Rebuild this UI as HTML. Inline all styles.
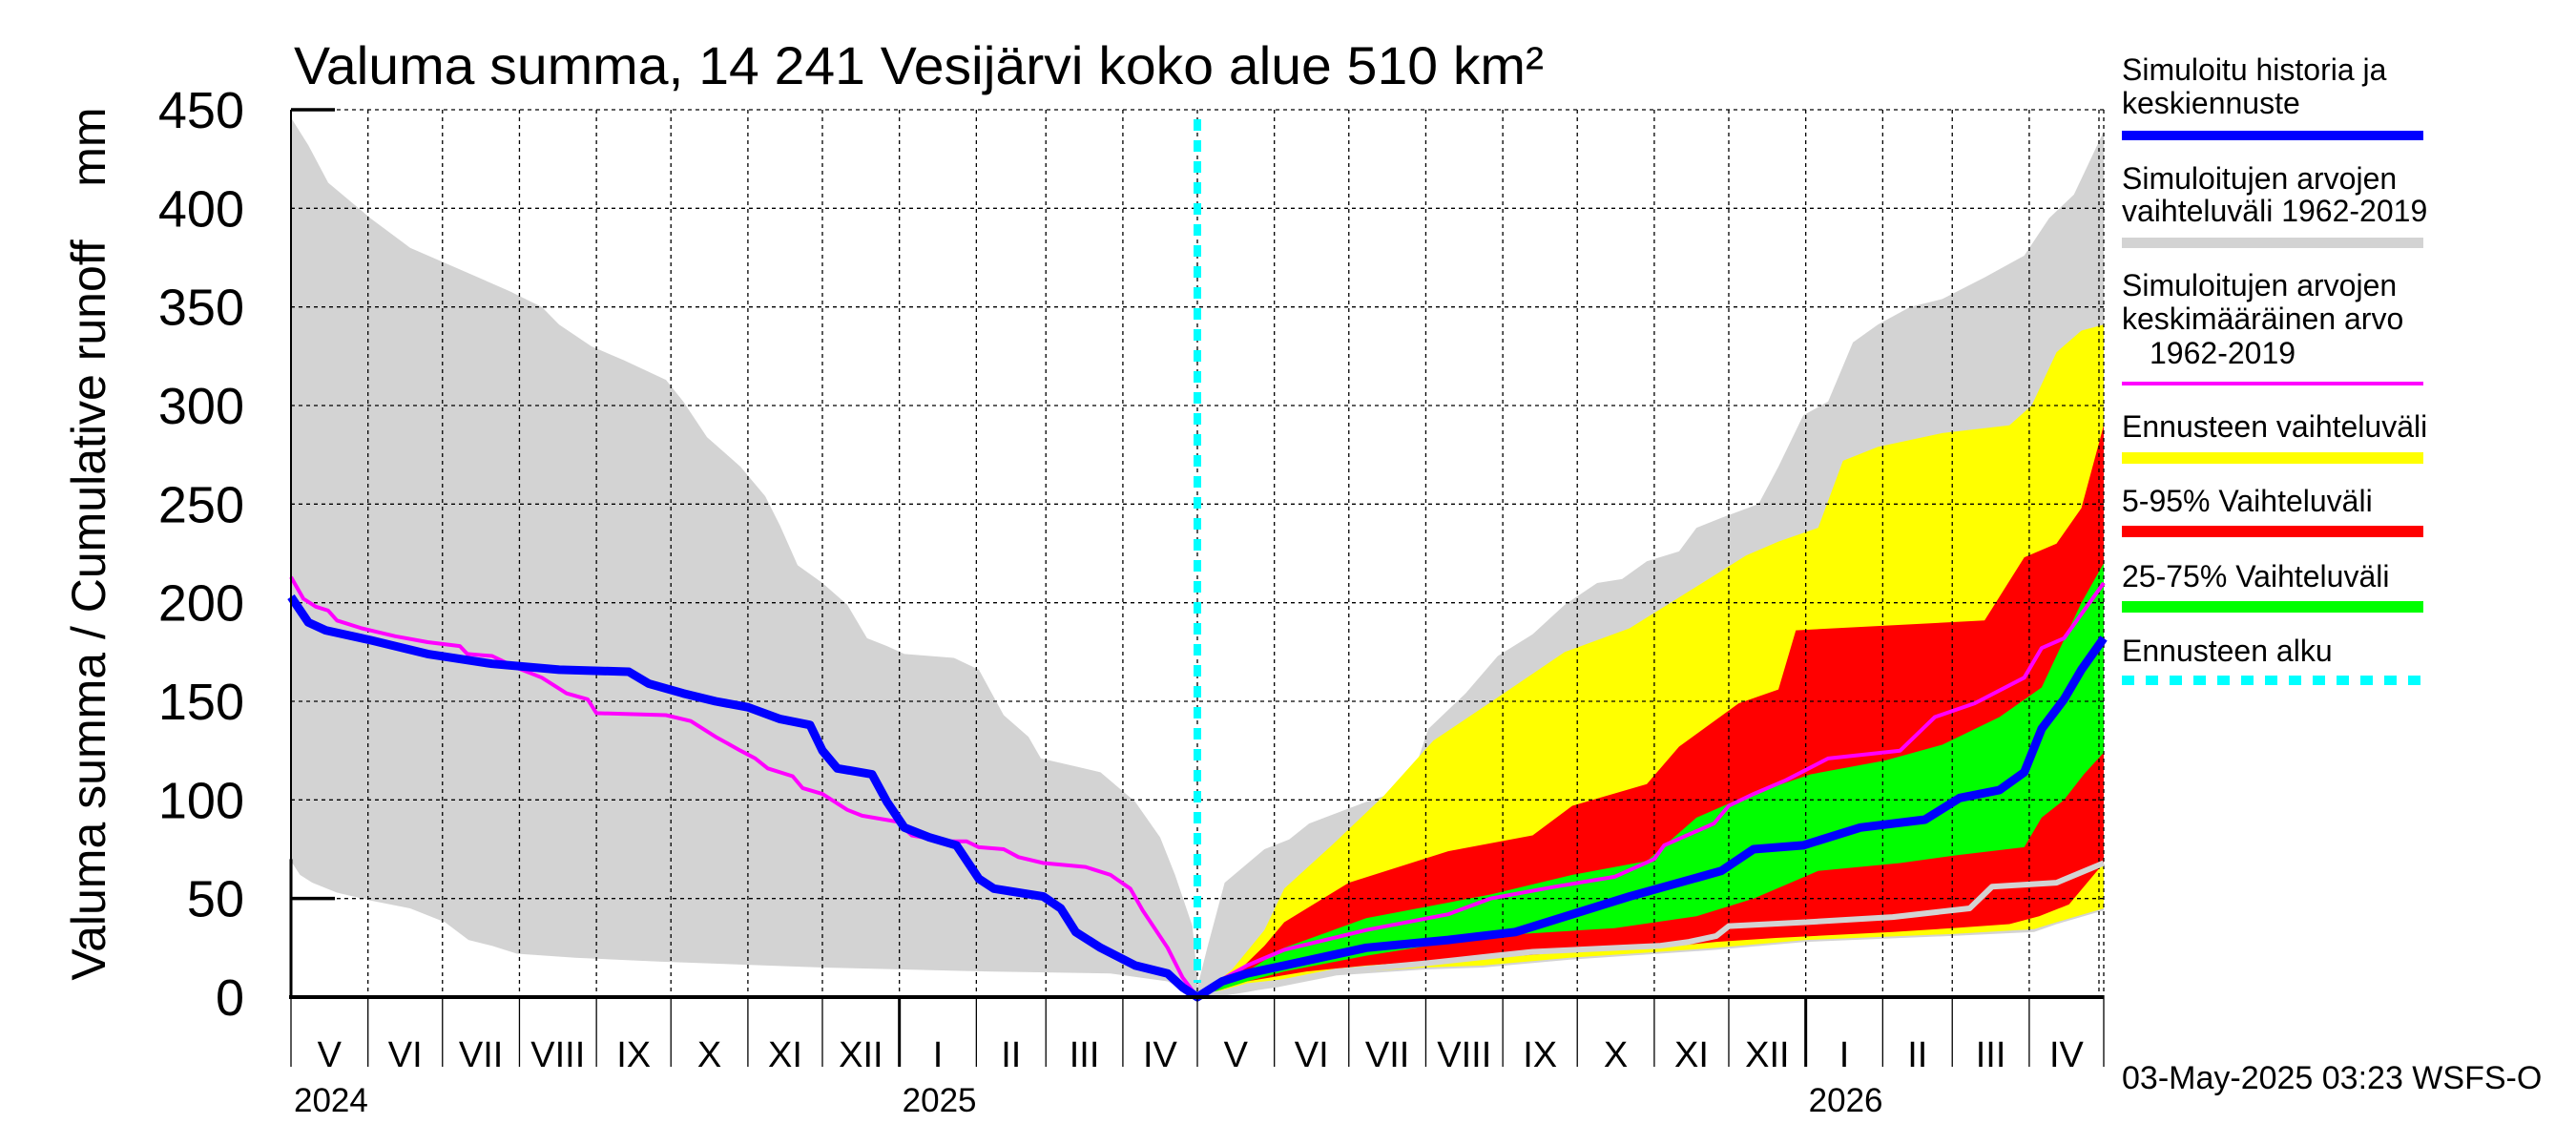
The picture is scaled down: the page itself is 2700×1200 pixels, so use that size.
<!DOCTYPE html>
<html><head><meta charset="utf-8"><style>
html,body{margin:0;padding:0;background:#fff;}
svg{display:block;font-family:"Liberation Sans",Arial,sans-serif;}
</style></head><body>
<svg id="chart" width="2700" height="1200" viewBox="0 0 2700 1200" xmlns="http://www.w3.org/2000/svg">
<rect x="0" y="0" width="2700" height="1200" fill="#fff"/>
<text x="308" y="88" font-size="56" textLength="1310" lengthAdjust="spacingAndGlyphs">Valuma summa, 14 241 Vesijärvi koko alue 510 km²</text>
<text transform="translate(110,570) rotate(-90)" text-anchor="middle" font-size="50" xml:space="preserve">Valuma summa / Cumulative runoff    mm</text>
<g id="fills"></g>
<g id="grid"></g>
<g id="lines"></g>
<g id="axes"></g>
<g font-size="32">
 <text x="2224" y="84">Simuloitu historia ja</text>
 <text x="2224" y="119">keskiennuste</text>
 <rect x="2224" y="137" width="316" height="10" fill="#0000ff"/>
 <text x="2224" y="198">Simuloitujen arvojen</text>
 <text x="2224" y="232">vaihteluväli 1962-2019</text>
 <rect x="2224" y="249" width="316" height="11" fill="#d3d3d3"/>
 <text x="2224" y="310">Simuloitujen arvojen</text>
 <text x="2224" y="345">keskimääräinen arvo</text>
 <text x="2253" y="381">1962-2019</text>
 <rect x="2224" y="400" width="316" height="4" fill="#ff00ff"/>
 <text x="2224" y="458">Ennusteen vaihteluväli</text>
 <rect x="2224" y="474" width="316" height="12" fill="#ffff00"/>
 <text x="2224" y="536">5-95% Vaihteluväli</text>
 <rect x="2224" y="551" width="316" height="12" fill="#ff0000"/>
 <text x="2224" y="615">25-75% Vaihteluväli</text>
 <rect x="2224" y="630" width="316" height="12" fill="#00ff00"/>
 <text x="2224" y="693">Ennusteen alku</text>
 <line x1="2224" y1="713" x2="2540" y2="713" stroke="#00ffff" stroke-width="10" stroke-dasharray="13,12"/>
</g>
<text x="2224" y="1141" font-size="34">03-May-2025 03:23 WSFS-O</text>
</svg>
<script>
// ---- data ----
const monthLabels = ["V","VI","VII","VIII","IX","X","XI","XII","I","II","III","IV","V","VI","VII","VIII","IX","X","XI","XII","I","II","III","IV"];
const monthDays = [31,30,31,31,30,31,30,31,31,28,31,30,31,30,31,31,30,31,30,31,31,28,31,30];
const yearLabels = ["2024","2025","2026"];
const yTicks = [0,50,100,150,200,250,300,350,400,450];
const forecastStartDay = 365;

const histBlueDays = [0,7,14,32,55,81,108,136,144,158,171,184,197,209,214,220,234,240,247,257,268,277,283,303,310,316,326,340,353,359,365];
const histBlueVals = [203,190,186,181,174,169,166,165,159,154,150,147,141,138,125,116,113,99,86,81,77,60,55,51,45,33,25,16,12,5,0];
const fcBlueDays = [10,20,35,68,101,128,151,174,211,224,244,267,293,307,323,333,340,349,356,365];
const fcBlueVals = [8,12,16,25,29,33,42,51,64,75,77,86,90,101,105,114,136,151,166,182];

const histMeanDays = [0,5,10,15,18.5,28.5,42,55,68,71,81,91,101,111,119.5,123,151,161,171,181,187,192,202,206,214,224,230,244,250,263,272,277,287,293,303,320,330,338,343,353,359,365];
const histMeanVals = [213,202,198,196,191,187,183,180,178,174,173,167,162,154,151,144,143,140,132,125,121,116,112,106,103,95,92,89,82,79,79,76,75,71,68,66,62,55,44,25,10,0];
const fcMeanDays = [10,20,35,68,101,118,144,168,184,188,208,214,224,237,254,283,297,313,333,340,349,365];
const fcMeanVals = [9,16,24,34,42,50,56,61,70,77,88,97,103,110,121,125,142,149,162,177,182,210];

const rangeUpperHistDays = [0,7,15,32,48,68,88,101,108,121,134,151,158,167.5,181,191,197,204,214,224,232,240,247,267,277,287,297,302,316,326,340,350,356,363,365];
const rangeUpperHistVals = [446,432,413,395,380,369,358,350,341,330,323,313,302,284,269,254,239,219,210,199,182,178,174,172,166,143,132,121,117,114,99,81,62,36,10];
const rangeUpperFcDays = [0,4,11,27,37,45,68,85,93,108,121,135,148,161,171,181,194,201,211,226,234,244,254,264,274,287,300,317,333,343,353,365];
const rangeUpperFcVals = [5,25,58,75,80,88,99,106,136,154,173,184,199,210,212,221,226,238,243,250,269,295,302,332,341,350,354,365,376,395,407,439];
const rangeLowerHistDays = [0,3.6,8.6,18.5,32,48,62,71.5,81,91,114.5,148,214,280,330,353,365];
const rangeLowerHistVals = [69,62,58,53,49,45,38,29,26,22,20,18,15,13,12,8,0];
const rangeLowerFcDays = [0,10,32,56,91,115,150,186,209,245,304,337,346,365];
const rangeLowerFcVals = [0,1,5,11,14,15,19,22,24,28,31,33,37,44];

const yellowUpperDays = [0,14,27,35,55,75,95,121,148,174,197,221,234,250,260,274,300,327,336,346,356,365];
const yellowUpperVals = [0,14,34,55,78,102,130,152,175,187,205,224,231,238,272,279,286,290,300,327,338,341];
const yellowLowerDays = [0,20,56,91,115,150,186,209,245,304,337,346,365];
const yellowLowerVals = [0,7,12,15,16,20,23,25,29,32,34.5,38,45];
const redUpperDays = [0,14,27,35,61,101,135,151,181,194,218,234,241,317,333,346,356,365];
const redUpperVals = [0,10,26,38,58,74,82,97,108,127,149,156,186,191,223,230,248,290];
const redLowerDays = [0,20,44,68,91,120,150,186,209,233,280,304,327,339,351,365];
const redLowerVals = [0,8,13,16,18,20,23,25,28,30,33,35,37,41,47,68];
const greenUpperDays = [0,20,35,68,118,151,181,201,221,247,277,300,323,340,356,365];
const greenUpperVals = [0,13,25,40,52,62,69,91,102,113,120,128,142,157,200,220];
const greenLowerDays = [0,20,35,68,118,168,201,224,250,283,306,333,340,349,357,365];
const greenLowerVals = [0,8,13,21,31,35,41,50,64,68,72,76,91,100,113,124];
const grayLineDays = [0,20,56,91,120,135,186,198,209,214,245,280,311,320,346,365];
const grayLineVals = [0,4,13,17,21,23,26,28,31,36,38,40.6,45,56,58,68];

// ---- scales ----
const X0 = 305, X1 = 2205, Y0 = 1045, Y1 = 115, TOTAL = 730, VMAX = 450;
function xs(d){ return X0 + d * (X1 - X0) / TOTAL; }
function ys(v){ return Y0 - v * (Y0 - Y1) / VMAX; }
const NS = "http://www.w3.org/2000/svg";
function mk(tag, parent, attrs){
  const e = document.createElementNS(NS, tag);
  for (const k in attrs) e.setAttribute(k, attrs[k]);
  parent.appendChild(e); return e;
}
function pts(days, vals, off){ return days.map((d,i)=> xs(d+off).toFixed(1)+","+ys(vals[i]).toFixed(1)); }
function band(ud, uv, ld, lv, off){ return pts(ud,uv,off).concat(pts(ld,lv,off).reverse()).join(" "); }

const fills = document.getElementById("fills");
const grid = document.getElementById("grid");
const lines = document.getElementById("lines");
const axes = document.getElementById("axes");

const upper = pts(rangeUpperHistDays, rangeUpperHistVals, 0).concat(pts(rangeUpperFcDays, rangeUpperFcVals, forecastStartDay));
const lower = pts(rangeLowerHistDays, rangeLowerHistVals, 0).concat(pts(rangeLowerFcDays, rangeLowerFcVals, forecastStartDay));
let el = mk("polygon", fills, {points: upper.concat(lower.reverse()).join(" "), fill:"#d3d3d3"});


el = mk("polygon", fills, {points: band(yellowUpperDays, yellowUpperVals, yellowLowerDays, yellowLowerVals, forecastStartDay), fill:"#ffff00"});


el = mk("polygon", fills, {points: band(redUpperDays, redUpperVals, redLowerDays, redLowerVals, forecastStartDay), fill:"#ff0000"});


el = mk("polygon", fills, {points: band(greenUpperDays, greenUpperVals, greenLowerDays, greenLowerVals, forecastStartDay), fill:"#00ff00"});



yTicks.forEach(v => {
  if (v === 0) return;
  const g = mk("line", grid, {x1:X0, x2:X1, y1:ys(v), y2:ys(v), stroke:"#000", "stroke-width":1.3, "stroke-dasharray":"4,4"});
  
  
});
let acc = 0;
const bounds = [0];
monthDays.forEach(m => { acc += m; bounds.push(acc); });
bounds.forEach((d,i) => {
  if (i === 0) return;
  const g = mk("line", grid, {x1:xs(d), x2:xs(d), y1:Y1, y2:Y0, stroke:"#000", "stroke-width":1.3, "stroke-dasharray":"4,4"});
  
  
});
el = mk("line", grid, {x1:X1-5, x2:X1-5, y1:Y1, y2:Y0, stroke:"#000", "stroke-width":1.3, "stroke-dasharray":"4,4"});



el = mk("polyline", lines, {points: pts(grayLineDays, grayLineVals, forecastStartDay).join(" "), fill:"none", stroke:"#d3d3d3", "stroke-width":6, "stroke-linejoin":"round"});


el = mk("polyline", lines, {points: pts(histMeanDays, histMeanVals, 0).concat(pts(fcMeanDays, fcMeanVals, forecastStartDay)).join(" "), fill:"none", stroke:"#ff00ff", "stroke-width":4, "stroke-linejoin":"round"});


el = mk("polyline", lines, {points: pts(histBlueDays, histBlueVals, 0).concat(pts(fcBlueDays, fcBlueVals, forecastStartDay)).join(" "), fill:"none", stroke:"#0000ff", "stroke-width":9, "stroke-linejoin":"round"});


el = mk("line", lines, {x1:xs(forecastStartDay), x2:xs(forecastStartDay), y1:Y1+10, y2:Y0-15, stroke:"#00ffff", "stroke-width":8, "stroke-dasharray":"12,10"});



el = mk("line", axes, {x1:X0, x2:X0, y1:Y1, y2:Y0, stroke:"#000", "stroke-width":2});


el = mk("line", axes, {x1:X0, x2:X0, y1:ys(70), y2:Y0, stroke:"#000", "stroke-width":3});


el = mk("line", axes, {x1:X0-2, x2:X1, y1:Y0, y2:Y0, stroke:"#000", "stroke-width":4});


[450,50].forEach(v => {
  const t = mk("line", axes, {x1:X0, x2:X0+46, y1:ys(v), y2:ys(v), stroke:"#000", "stroke-width":3.5});
  
  
});
yTicks.forEach(v => {
  const t = mk("text", axes, {x:256, y:ys(v)+19, "text-anchor":"end", "font-size":54});
  t.textContent = String(v);
  
  
});
bounds.forEach((d,i) => {
  const isYear = (i === 8 || i === 20);
  const t = mk("line", axes, {x1:xs(d), x2:xs(d), y1:Y0, y2:1118, stroke:"#000", "stroke-width": isYear ? 3 : 1.3});
  
  
});
monthLabels.forEach((m,i) => {
  const t = mk("text", axes, {x:(xs(bounds[i])+xs(bounds[i+1]))/2, y:1118, "text-anchor":"middle", "font-size":38});
  t.textContent = m;
  
  
});
[0,8,20].forEach((bi,i) => {
  const t = mk("text", axes, {x:xs(bounds[bi])+3, y:1165, "font-size":35});
  t.textContent = yearLabels[i];
  
  
});
</script>
</body></html>
